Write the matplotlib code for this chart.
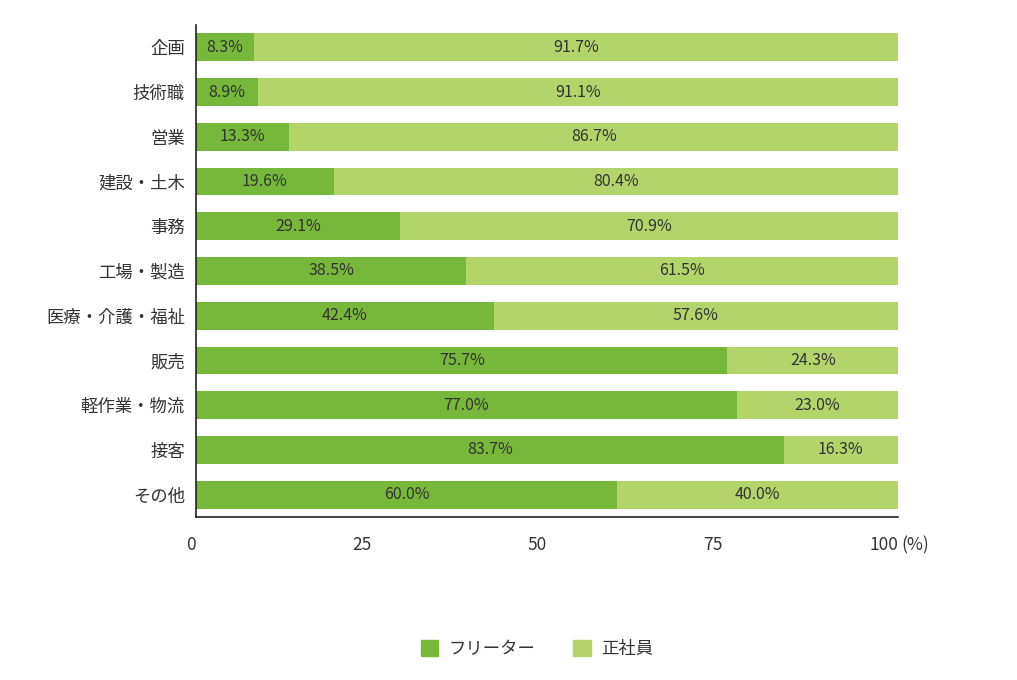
import matplotlib.pyplot as plt
from matplotlib.patches import Patch

plt.rcParams['font.family'] = ['Noto Sans CJK JP', 'DejaVu Sans']

categories = ["企画", "技術職", "営業", "建設・土木", "事務", "工場・製造",
              "医療・介護・福祉", "販売", "軽作業・物流", "接客", "その他"]
freeter = [8.3, 8.9, 13.3, 19.6, 29.1, 38.5, 42.4, 75.7, 77.0, 83.7, 60.0]
seishain = [91.7, 91.1, 86.7, 80.4, 70.9, 61.5, 57.6, 24.3, 23.0, 16.3, 40.0]
series_names = ["フリーター", "正社員"]
xticks = [0, 25, 50, 75, 100]

c_dark = "#76b83a"
c_light = "#b3d36b"
txt = "#333333"

fig = plt.figure(figsize=(10.17, 6.8), dpi=100)
ax = fig.add_axes([196 / 1017, 1 - 517 / 680, 702 / 1017, 492 / 680])

y = list(range(len(categories)))
ax.barh(y, freeter, height=0.62, color=c_dark)
ax.barh(y, seishain, left=freeter, height=0.62, color=c_light)

for i, (a, b) in enumerate(zip(freeter, seishain)):
    ax.text(a / 2, i, f"{a:.1f}%", ha="center", va="center", fontsize=11.5, color=txt)
    ax.text(a + b / 2, i, f"{b:.1f}%", ha="center", va="center", fontsize=11.5, color=txt)

ax.set_xlim(0, 100)
ax.set_ylim(len(categories) - 0.5, -0.5)
ax.set_yticks(y)
ax.set_yticklabels(categories, fontsize=12.5, color=txt)
ax.set_xticks(xticks)
ax.set_xticklabels([str(t) for t in xticks], fontsize=12.5, color=txt, ha="right")
ax.tick_params(axis="both", length=0)
ax.tick_params(axis="y", pad=8)
ax.tick_params(axis="x", pad=14)
for s in ["top", "right"]:
    ax.spines[s].set_visible(False)
for s in ["left", "bottom"]:
    ax.spines[s].set_color("#222222")
    ax.spines[s].set_linewidth(1.2)

ax.text(1.005, -0.04, "(%)", transform=ax.transAxes, fontsize=12.5, color=txt,
        ha="left", va="top")

handles = [Patch(color=c_dark, label=series_names[0]),
           Patch(color=c_light, label=series_names[1])]
fig.legend(handles=handles, loc="center", bbox_to_anchor=(0.528, 1 - 649 / 680),
           ncol=2, frameon=False, fontsize=12.5, handlelength=1.0, handleheight=1.0,
           columnspacing=2.2, handletextpad=0.6, labelcolor=txt)

fig.savefig("out.png", dpi=100)
